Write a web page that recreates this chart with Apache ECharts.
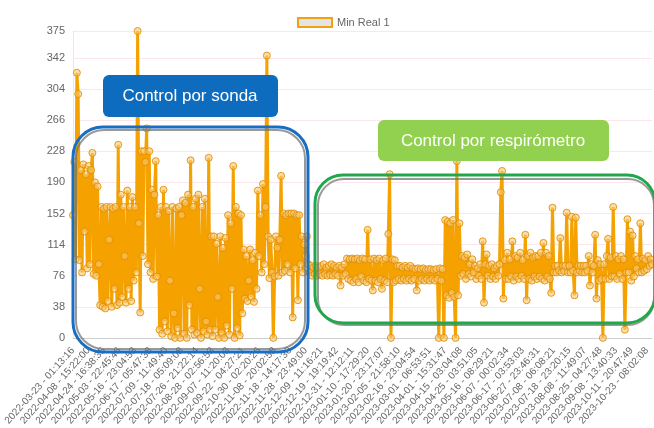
<!DOCTYPE html>
<html>
<head>
<meta charset="utf-8">
<script src="https://cdn.jsdelivr.net/npm/echarts@6/dist/echarts.min.js"></script>
<style>
  html, body { margin: 0; padding: 0; background: #fff; }
  #chart { width: 654px; height: 428px; }
</style>
</head>
<body>
<div id="chart"></div>
<script>
// 刻度标签（每 12 个采样点一个）
const tickLabels = [
  "2022-03-23 - 01:13:16", "2022-04-08 - 15:22:00", "2022-04-24 - 16:38:35",
  "2022-05-03 - 22:45:46", "2022-05-16 - 23:04:53", "2022-06-17 - 05:47:38",
  "2022-07-09 - 11:49:40", "2022-07-18 - 05:09:08", "2022-07-26 - 21:22:14",
  "2022-08-28 - 02:56:53", "2022-09-07 - 11:20:03", "2022-09-22 - 04:27:21",
  "2022-10-30 - 02:20:26", "2022-11-08 - 20:02:58", "2022-11-18 - 14:17:30",
  "2022-11-28 - 23:49:00", "2022-12-09 - 11:16:21", "2022-12-19 - 19:19:42",
  "2022-12-31 - 12:12:11", "2023-01-10 - 17:29:20", "2023-01-20 - 23:17:07",
  "2023-02-05 - 21:58:10", "2023-02-16 - 23:04:54", "2023-03-01 - 06:53:51",
  "2023-04-01 - 15:31:47", "2023-04-15 - 03:04:08", "2023-04-25 - 03:51:05",
  "2023-05-16 - 08:29:21", "2023-06-07 - 00:02:34", "2023-06-17 - 03:53:03",
  "2023-06-27 - 23:46:31", "2023-07-08 - 06:08:21", "2023-07-18 - 23:20:15",
  "2023-08-08 - 11:49:07", "2023-08-25 - 04:27:48", "2023-09-08 - 13:40:33",
  "2023-10-11 - 20:47:49", "2023-10-23 - 08:02:08"
];
const pointsPerTick = 12;

// Min Real 1 数值（每行对应一个刻度区间）
const minReal1 = [
  150, 215, 96, 324, 298, 95, 205, 80, 212, 130, 200, 85,
  210, 90, 205, 226, 78, 190, 76, 185, 90, 40, 160, 38,
  158, 36, 160, 45, 120, 160, 38, 158, 60, 160, 40, 236,
  43, 175, 50, 160, 100, 43, 180, 60, 160, 45, 172, 70,
  160, 80, 375, 140, 31, 228, 100, 228, 215, 256, 90, 228,
  80, 181, 72, 175, 216, 75, 150, 10, 160, 5, 181, 20,
  160, 8, 155, 70, 2, 160, 30, 0, 158, 12, 160, 0,
  150, 168, 5, 165, 0, 175, 40, 217, 10, 160, 4, 170,
  6, 175, 60, 0, 160, 8, 170, 20, 4, 220, 10, 124,
  2, 124, 10, 115, 50, 0, 124, 6, 110, 0, 122, 15,
  150, 4, 140, 60, 210, 0, 160, 12, 152, 3, 150, 30,
  108, 48, 100, 45, 70, 108, 50, 95, 44, 104, 60, 180,
  100, 150, 80, 188, 90, 160, 345, 124, 73, 120, 80, 0,
  75, 124, 110, 76, 120, 198, 80, 152, 82, 150, 90, 152,
  80, 152, 25, 152, 85, 150, 46, 150, 90, 124, 80, 114,
  100, 124, 90, 80, 88, 76, 86, 78, 88, 76, 86, 78,
  88, 76, 90, 78, 86, 76, 88, 77, 90, 76, 88, 78,
  86, 76, 88, 64, 86, 76, 90, 78, 97, 72, 96, 70,
  97, 68, 96, 72, 97, 68, 95, 75, 97, 70, 96, 68,
  132, 72, 96, 70, 58, 97, 70, 95, 68, 97, 72, 60,
  95, 70, 97, 68, 127, 200, 0, 96, 68, 95, 70, 88,
  72, 88, 70, 86, 72, 88, 70, 86, 72, 88, 70, 85,
  72, 84, 58, 85, 70, 84, 72, 85, 70, 83, 72, 84,
  70, 84, 72, 83, 70, 84, 72, 0, 85, 70, 84, 0,
  144, 52, 142, 49, 140, 55, 144, 50, 0, 216, 52, 140,
  76, 100, 78, 98, 72, 102, 78, 90, 75, 96, 80, 88,
  72, 85, 76, 90, 72, 118, 43, 90, 102, 76, 88, 72,
  90, 75, 85, 72, 88, 76, 90, 178, 204, 48, 95, 72,
  104, 72, 96, 75, 118, 70, 100, 75, 98, 72, 104, 76,
  95, 72, 126, 46, 100, 72, 104, 70, 98, 75, 100, 72,
  100, 75, 104, 72, 116, 70, 104, 75, 100, 72, 55, 159,
  80, 88, 80, 88, 82, 122, 80, 88, 82, 88, 153, 80,
  88, 80, 148, 82, 52, 147, 80, 88, 82, 88, 80, 88,
  80, 88, 82, 100, 64, 90, 80, 88, 126, 48, 95, 70,
  90, 72, 0, 90, 72, 100, 121, 72, 98, 75, 160, 75,
  100, 72, 96, 78, 100, 72, 96, 10, 80, 145, 80, 130,
  70, 125, 75, 100, 85, 96, 80, 140, 80, 97, 82, 95,
  84, 100, 88, 96, 90
];

// y 轴刻度
const yMin = 0;
const yMax = 375;
const yStep = 38;

// 注释框文字
const sondaText = "Control por sonda";
const respText = "Control por respirómetro";

const categories = minReal1.map((v, i) =>
  i % pointsPerTick === 0 ? tickLabels[i / pointsPerTick] : ""
);

const chart = echarts.init(document.getElementById("chart"));

const font = "Liberation Sans, Arial, sans-serif";

// 注释框的文字
const boxText = (text, cx, cy) => ({
  type: "text",
  z: 103,
  style: {
    x: cx,
    y: cy,
    text: text,
    fill: "#fff",
    font: "17px " + font,
    align: "center",
    verticalAlign: "middle",
    textAlign: "center",
    textVerticalAlign: "middle",
  },
});

chart.setOption({
  animation: false,
  legend: {
    left: 292,
    top: 12,
    icon: "rect",
    itemWidth: 34,
    itemHeight: 9,
    itemGap: 6,
    itemStyle: { color: "#e4e4e4", borderColor: "#f2a20c", borderWidth: 2 },
    textStyle: { color: "#666", fontSize: 11, fontFamily: font },
    data: ["Min Real 1"],
  },
  grid: { left: 73, right: 2, top: 31, bottom: 85 },
  xAxis: {
    type: "category",
    data: categories,
    boundaryGap: false,
    axisLine: { lineStyle: { color: "#d0d0d0" } },
    axisTick: { show: false },
    axisLabel: {
      interval: pointsPerTick - 1,
      rotate: 48,
      margin: 11,
      color: "#666",
      fontSize: 10,
      fontFamily: font,
    },
    splitLine: { show: false },
  },
  yAxis: {
    type: "value",
    min: yMin,
    max: yMax,
    interval: yStep,
    axisLine: { show: true, lineStyle: { color: "#f6e3e8" } },
    axisTick: { show: false },
    axisLabel: { color: "#666", fontSize: 11, margin: 8, fontFamily: font },
    splitLine: { lineStyle: { color: "#fbe6eb" } },
  },
  series: [
    {
      name: "Min Real 1",
      type: "line",
      data: minReal1,
      symbol: "circle",
      symbolSize: 7,
      showAllSymbol: true,
      lineStyle: { color: "#f5a200", width: 3 },
      itemStyle: {
        color: "rgba(250,200,110,0.6)",
        borderColor: "rgba(225,140,0,0.85)",
        borderWidth: 1,
      },
    },
  ],
  // 注释框
  graphic: [
    {
      type: "rect",
      z: 100,
      shape: { x: 76, y: 130, width: 229, height: 219, r: 28 },
      style: { fill: "none", stroke: "rgba(110,110,110,0.7)", lineWidth: 2 },
    },
    {
      type: "rect",
      z: 101,
      shape: { x: 73, y: 127, width: 235, height: 225, r: 30 },
      style: { fill: "none", stroke: "#1a6ec2", lineWidth: 3 },
    },
    {
      type: "rect",
      z: 100,
      shape: { x: 318, y: 179, width: 336, height: 146, r: 26 },
      style: { fill: "none", stroke: "rgba(110,110,110,0.7)", lineWidth: 2 },
    },
    {
      type: "rect",
      z: 101,
      shape: { x: 315, y: 175, width: 340, height: 148, r: 28 },
      style: { fill: "none", stroke: "#20a84a", lineWidth: 3 },
    },
    {
      type: "rect",
      z: 102,
      shape: { x: 103, y: 75, width: 175, height: 42, r: 6 },
      style: { fill: "#0e6cbf" },
    },
    boxText(sondaText, 190, 96),
    {
      type: "rect",
      z: 102,
      shape: { x: 378, y: 120, width: 231, height: 41, r: 6 },
      style: { fill: "#92d050" },
    },
    boxText(respText, 493, 141),
  ],
});
</script>
</body>
</html>
